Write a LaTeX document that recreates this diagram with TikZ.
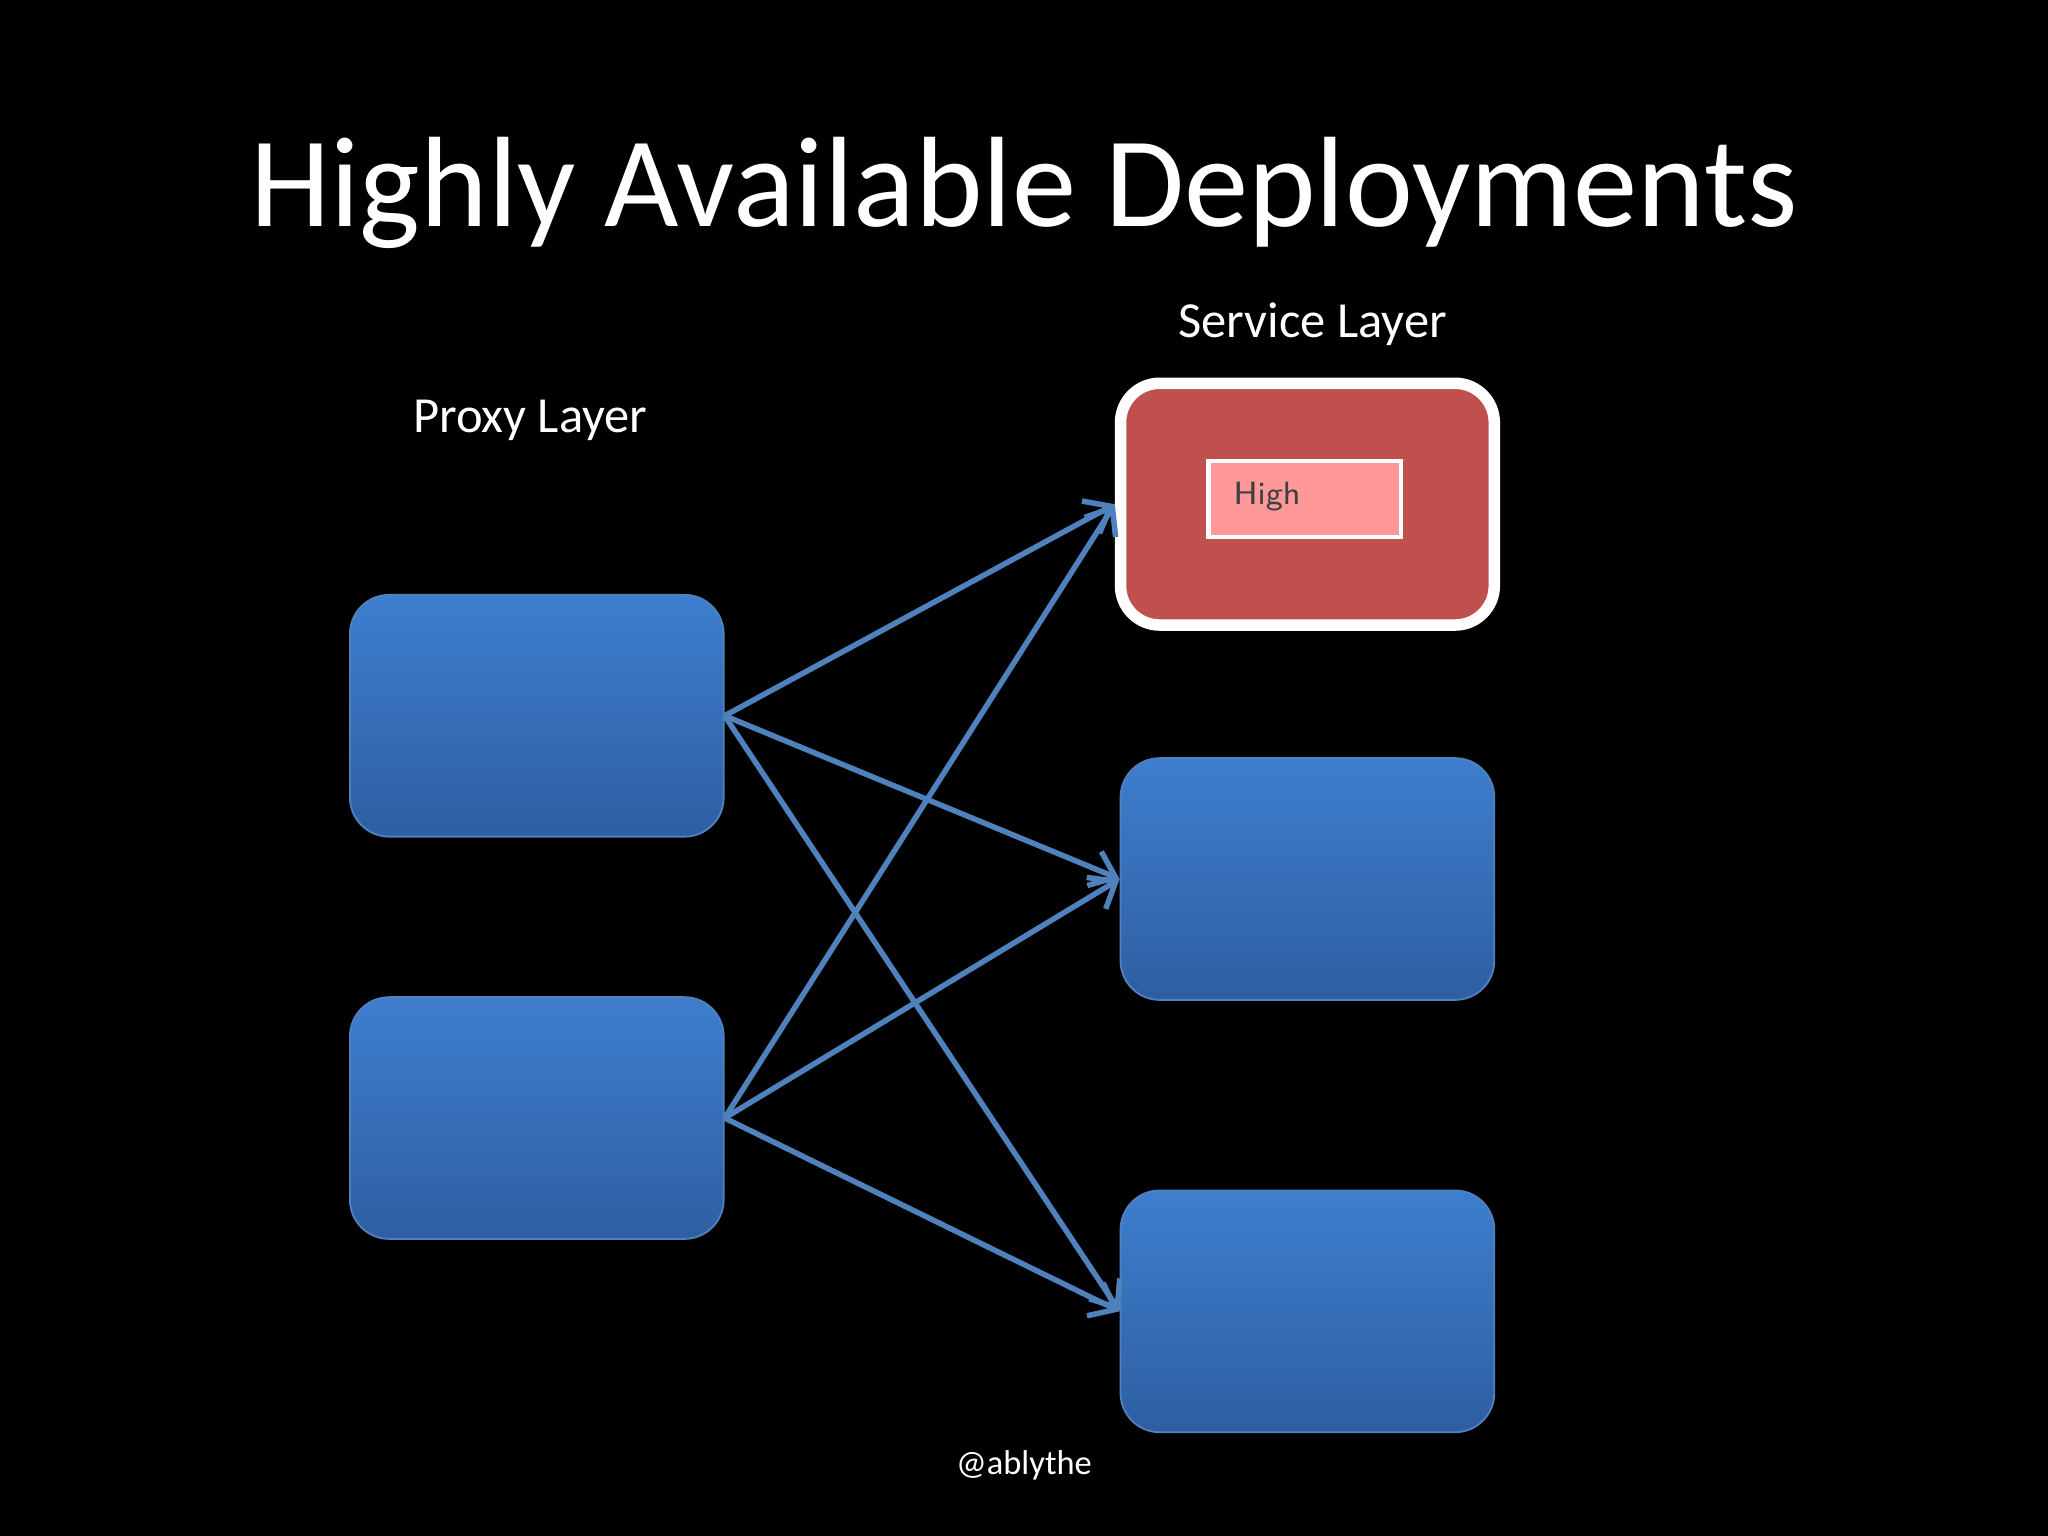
\documentclass[tikz,border=0pt]{standalone}
\usepackage{fontspec}
\setmainfont{Carlito}
\usetikzlibrary{arrows.meta,positioning}
\definecolor{boxtop}{RGB}{62,126,206}
\definecolor{boxbot}{RGB}{46,94,162}
\definecolor{edgeblue}{RGB}{79,129,189}
\definecolor{svcred}{RGB}{192,80,77}
\definecolor{hipink}{RGB}{255,153,153}
\tikzset{
  blk/.style={draw=edgeblue,rounded corners=0.3cm,minimum width=2.86cm,minimum height=1.85cm,top color=boxtop,bottom color=boxbot},
  link/.style={draw=edgeblue,line width=1.2pt,-{Straight Barb[length=5pt,width=8pt]}},
  lbl/.style={text=white,font=\fontsize{11}{13}\selectfont}
}
\begin{document}
\begin{tikzpicture}[x=0.01cm,y=-0.01cm]
  \fill[black] (0,0) rectangle (1568,1176);
  % Title
  \node[text=white,font=\fontsize{28}{32}\selectfont] (title) at (784,148) {Highly Available Deployments};
  \node[lbl] (plabel) at (406,322) {Proxy Layer};
  \node[lbl] (slabel) at (1005,248) {Service Layer};
  % Proxy layer
  \node[blk] (p1) at (411,548) {};
  \node[blk] (p2) at (411,856) {};
  % Service layer
  \node[draw=white,line width=2.5pt,fill=svcred,rounded corners=0.3cm,minimum width=2.86cm,minimum height=1.85cm] (s1) at (1001,386) {};
  \node[draw=white,line width=1pt,fill=hipink,minimum width=1.47cm,minimum height=0.58cm] (hi) at (999,382) {};
  \node[text=black!75,font=\fontsize{7}{8}\selectfont\sffamily,anchor=west] (hitext) at (932,380) {High};
  \node[blk] (s2) at (1001,673) {};
  \node[blk] (s3) at (1001,1004) {};
  % Connectors
  \foreach \p in {p1,p2}
    \foreach \s in {s1,s2,s3}
      \draw[link] (\p.east) -- (\s.west);
  \node[text=white,font=\fontsize{7.5}{9}\selectfont] (handle) at (784,1122) {@ablythe};
\end{tikzpicture}
\end{document}
